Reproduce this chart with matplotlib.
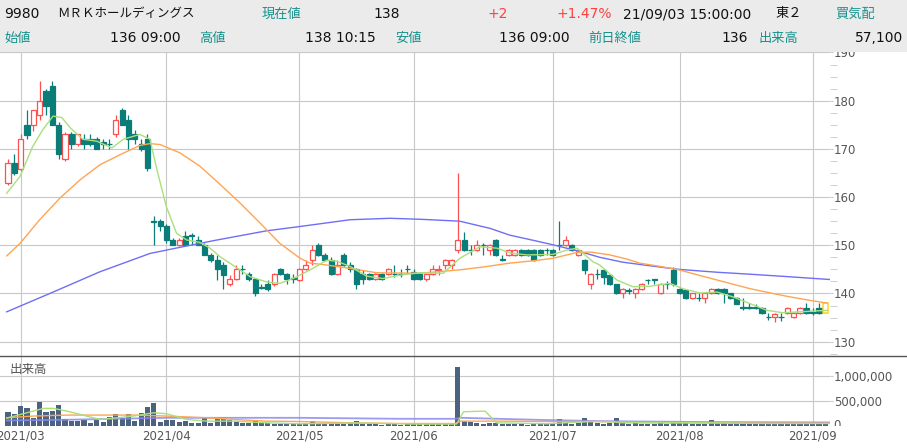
import numpy as np
import pandas as pd
import matplotlib
matplotlib.use('Agg')
import matplotlib.pyplot as plt
from matplotlib.patches import Rectangle
from matplotlib.lines import Line2D
from matplotlib.transforms import Bbox, TransformedBbox
from matplotlib.ticker import MultipleLocator

# ---------------- data ----------------
holidays = ['2021-04-29', '2021-05-03', '2021-05-04', '2021-05-05',
            '2021-07-22', '2021-07-23', '2021-08-09']
dates = [d for d in pd.bdate_range('2021-02-25', '2021-09-03')
         if d.strftime('%Y-%m-%d') not in holidays]

opens = [163, 167, 165.8, 175, 175, 177, 182, 183, 175, 168,
         173, 171, 172, 172, 172, 171.5, 171, 173, 178, 176,
         173, 171, 172, 155, 155, 154, 151, 150, 152, 152.2,
         151, 150, 148, 147, 146, 142, 143, 145.1, 144, 143,
         141.3, 141.9, 141.9, 145, 144, 143.2, 142.9, 145, 146.9, 150,
         148, 147, 144, 148, 146, 145, 144, 144, 143, 144,
         144, 144.1, 144.1, 145.1, 144.5, 144, 143, 144, 144.9, 146,
         146, 149, 151, 149.1, 149, 150.1, 149, 151, 147.1, 148,
         148, 149, 149, 149, 149, 149.1, 149, 150.1, 150, 150,
         148, 147, 142, 144.1, 144.9, 143.8, 141.9, 140, 140.7, 140,
         141, 142.9, 143, 140, 142, 144.9, 141, 140.8, 139, 139.1,
         139, 140, 141, 141, 140, 139, 137.1, 137.1, 137.1, 137,
         135.2, 135.1, 135.2, 136, 135.1, 136, 136.9, 136.1, 136.9, 136]
highs = [168, 169, 173, 178, 178, 184, 182.5, 184, 175.5, 173.5,
         173.5, 173, 173, 173, 172.5, 172, 172, 177, 178.5, 177,
         174, 172, 173, 156, 155.5, 154.5, 151.5, 151.5, 153, 152.5,
         152, 150.5, 148.5, 148, 146.5, 143.8, 146, 146, 144.5, 143.2,
         141.9, 142.9, 144.2, 145.3, 144.3, 144, 145.3, 147, 150, 150.5,
         148.5, 147.5, 147, 148.5, 146.5, 145.3, 144.8, 144.3, 144.3, 144.3,
         145.3, 146, 145, 146, 145, 144.5, 144, 146, 145.9, 147.2,
         147.2, 165, 152.8, 150, 151, 150.5, 150.3, 151.2, 148, 149.2,
         149.2, 149.2, 149.2, 149.2, 149.3, 149.5, 149.3, 155, 152, 150.3,
         149.2, 147.2, 144.2, 145, 145, 144, 142, 141.2, 141.2, 141.2,
         142.2, 143, 143.1, 142.2, 142.5, 145.5, 141.2, 141, 140.2, 140,
         140.2, 141.2, 141.2, 141.2, 140.2, 139.2, 139, 138, 137.8, 137.2,
         136, 136, 136, 137.1, 136.2, 137.1, 138, 137, 138, 138]
lows = [162.5, 164.5, 165.5, 172, 173.8, 176, 177, 175, 168, 167.5,
        170, 170.5, 170, 170.5, 170, 170, 170, 172.5, 175, 170,
        171, 169.5, 165.5, 150, 153, 150.5, 150, 149.8, 150, 150,
        150, 148, 146.5, 142.8, 141, 141.5, 142.8, 144, 142.5, 139.5,
        140.9, 140.5, 141.5, 143.8, 142, 142.2, 142.5, 144.8, 146, 147.8,
        146.8, 143.8, 143.8, 145.8, 144.5, 141, 142, 142.8, 142.8, 142.8,
        143.8, 143.5, 143.5, 144, 142.8, 142.8, 142.5, 143.8, 143.8, 145,
        145, 148.5, 148.8, 148, 148.8, 148, 148, 147.8, 146.8, 147.8,
        147.8, 147.8, 147.8, 146.8, 147.8, 148, 147.8, 149, 149.8, 148.8,
        147.8, 144, 141, 143, 142, 141.8, 139.9, 139, 139.8, 139,
        140.8, 141.9, 141.9, 139.8, 141, 141.5, 139.8, 138.8, 138.8, 138.5,
        138, 139.8, 139.8, 138, 138.8, 137.8, 136.5, 136.8, 136.8, 135.8,
        134.5, 134.1, 134.2, 135.8, 135, 135.8, 135.8, 135.5, 135.8, 136]
closes = [167, 165, 172, 172.8, 178, 180, 179, 175, 169, 173,
          171, 173, 171, 171, 170, 171, 171, 176, 175, 172,
          172, 170, 166, 154.8, 154, 151, 150, 151, 150, 152,
          150, 148, 147, 145, 143.8, 143, 145, 145, 143, 140,
          141.2, 140.9, 144, 144, 143, 143, 145, 146, 149, 148,
          147, 144, 146, 146, 145, 142, 143, 143, 144, 143,
          145, 144, 144, 145, 143, 143, 144, 145, 145, 147,
          147, 151, 149, 149, 150, 150, 150, 148, 147, 149,
          149, 148, 148, 147, 148, 149, 148, 150, 151, 149,
          149, 144.9, 144, 144, 143.5, 141.9, 140, 141, 140.6, 141,
          141.9, 142.8, 142.9, 141.9, 141.9, 141.9, 140, 139, 140, 139,
          140, 141, 140, 140, 139, 137.9, 137, 137, 137, 136,
          135.1, 135.8, 135.1, 136.9, 136, 136.9, 136, 136, 136, 138]
volumes = [277000, 237000, 392000, 358000, 142000, 473000, 277000, 290000, 412000, 122000,
           88000, 88000, 101000, 54000, 101000, 68000, 169000, 223000, 142000, 237000,
           88000, 257000, 379000, 446000, 74000, 108000, 108000, 74000, 88000, 41000,
           41000, 142000, 41000, 135000, 135000, 101000, 68000, 41000, 41000, 108000,
           41000, 41000, 34000, 34000, 34000, 30000, 40000, 45000, 100000, 60000,
           45000, 68000, 45000, 40000, 45000, 88000, 40000, 30000, 25000, 20000,
           25000, 30000, 20000, 25000, 30000, 25000, 25000, 30000, 25000, 35000,
           30000, 1170000, 88000, 68000, 54000, 40000, 45000, 54000, 30000, 25000,
           30000, 25000, 20000, 30000, 25000, 30000, 40000, 122000, 54000, 40000,
           45000, 155000, 68000, 45000, 40000, 45000, 142000, 54000, 40000, 45000,
           40000, 35000, 40000, 45000, 35000, 68000, 54000, 45000, 40000, 35000,
           40000, 115000, 54000, 45000, 40000, 45000, 35000, 30000, 25000, 35000,
           40000, 30000, 35000, 30000, 35000, 30000, 40000, 30000, 35000, 57100]

# moving averages (trading-day index, value)
ma5_idx = [-0.2, 1.9, 3.9, 5.5, 7.1, 8.5, 9.8, 11.8, 14.0, 16.4,
           18.2, 20.8, 22.4, 23.5, 25.0, 26.6, 28.2, 30.3, 31.9, 33.5,
           35.0, 36.6, 38.2, 40.8, 42.9, 45.0, 47.7, 50.3, 51.9, 54.0,
           56.6, 59.2, 61.9, 65.0, 68.7, 71.3, 74.5, 77.2, 79.2, 81.9,
           86.0, 88.2, 89.8, 92.3, 93.4, 96.1, 98.6, 101.3, 104.5, 106.5,
           109.2, 111.9, 114.4, 117.1, 119.8, 122.3, 125.0, 129.3]
ma5_val = [160.8, 164.3, 170.5, 174.0, 176.8, 176.5, 174.4, 172.0, 171.6, 170.2,
           172.0, 173.0, 172.0, 165.7, 158.0, 152.5, 151.1, 150.6, 149.4, 147.6,
           146.3, 144.9, 143.5, 142.4, 142.1, 143.1, 144.9, 146.9, 146.7, 145.6,
           143.6, 143.1, 143.8, 144.3, 144.2, 147.3, 149.7, 149.4, 148.4, 148.0,
           148.1, 149.0, 149.4, 146.6, 145.9, 142.8, 141.4, 141.5, 142.1, 141.0,
           140.1, 140.3, 139.3, 137.9, 136.5, 136.0, 136.2, 136.5]
ma25_idx = [-0.2, 1.9, 5.0, 8.2, 11.4, 14.5, 17.7, 20.8, 22.4, 24.0,
            27.1, 30.3, 33.5, 36.6, 39.8, 42.9, 46.1, 47.7, 50.3, 54.0,
            58.2, 65.0, 71.3, 75.0, 79.2, 83.0, 86.0, 89.8, 92.0, 95.0,
            97.5, 99.7, 103.0, 105.9, 109.0, 111.9, 114.5, 117.1, 120.0, 123.0,
            126.0, 129.3]
ma25_val = [147.8, 150.4, 155.3, 159.8, 163.6, 166.7, 168.8, 170.7, 171.1, 170.9,
            169.2, 166.4, 162.6, 158.8, 154.6, 150.4, 147.3, 146.3, 145.9, 145.2,
            144.3, 144.2, 144.9, 145.5, 146.3, 146.8, 147.3, 148.5, 148.6, 148.0,
            147.2, 146.3, 145.6, 144.9, 143.8, 142.8, 141.9, 141.0, 140.2, 139.4,
            138.7, 138.0]
ma75_idx = [-0.2, 6.6, 14.5, 22.4, 27.6, 33.0, 40.8, 46.1, 54.0, 60.3,
            65.0, 71.3, 76.1, 79.2, 83.0, 86.0, 90.0, 93.4, 97.0, 101.0,
            105.9, 112.0, 117.1, 123.0, 129.7]
ma75_val = [136.2, 140.0, 144.5, 148.3, 149.7, 151.1, 153.0, 153.9, 155.3, 155.6,
            155.4, 155.0, 153.5, 152.1, 151.0, 150.1, 148.8, 147.5, 146.5, 145.8,
            145.0, 144.4, 144.0, 143.5, 142.9]

vma5_idx = [-0.2, 2.0, 5.6, 7.2, 9.3, 11.4, 14.5, 17.2, 19.8, 23.0,
            25.0, 28.2, 31.4, 35.6, 40.8, 46.0, 55.0, 65.0, 70.8, 71.9,
            75.3, 77.1, 85.0, 92.0, 100.0, 110.0, 120.0, 129.7]
vma5_val = [150000, 223000, 345000, 345000, 290000, 223000, 122000, 155000, 190000, 257000,
            237000, 122000, 88000, 88000, 54000, 34000, 50000, 28000, 30000, 277000,
            290000, 54000, 35000, 80000, 60000, 55000, 40000, 40000]
vma25_idx = [-0.2, 4.0, 9.3, 19.8, 25.0, 31.4, 35.6, 40.8, 46.0, 54.0,
             62.0, 70.6, 71.5, 77.7, 85.5, 95.5, 96.5, 110.0, 129.7]
vma25_val = [155000, 190000, 210000, 210000, 190000, 155000, 122000, 88000, 80000, 54000,
             40000, 40000, 88000, 88000, 80000, 80000, 55000, 50000, 45000]
vma75_idx = [-0.2, 9.0, 25.0, 46.0, 62.0, 70.6, 71.5, 83.3, 93.4, 110.0, 129.7]
vma75_val = [101000, 115000, 155000, 155000, 135000, 135000, 155000, 115000, 88000, 70000, 62000]

price_ticks = [130, 140, 150, 160, 170, 180, 190]
vol_ticks = [500000, 1000000]
vol_tick_labels = ['500,000', '1,000,000']

header_row1 = [('9980', 4, 'k', 'num'), ('ＭＲＫホールディングス', 57, 'k', 'name'),
               ('現在値', 262, 't', 'jp'), ('138', 373, 'k', 'num'),
               ('+2', 488, 'r', 'num'), ('+1.47%', 556, 'r', 'num'),
               ('21/09/03 15:00:00', 623, 'k', 'num'), ('東２', 775, 'k', 'jp'),
               ('買気配', 835, 't', 'jp')]
header_row2 = [('始値', 4, 't', 'jp'), ('136 09:00', 110, 'k', 'num'),
               ('高値', 199, 't', 'jp'), ('138 10:15', 305, 'k', 'num'),
               ('安値', 395, 't', 'jp'), ('136 09:00', 499, 'k', 'num'),
               ('前日終値', 588, 't', 'jp'), ('136', 721, 'k', 'num'),
               ('出来高', 758, 't', 'jp'), ('57,100', 855, 'k', 'num')]

# ---------------- styling ----------------
W, H = 907, 448
def fx(px):
    return px / W
def fy(py):
    return 1 - py / H

UP = '#FF4F4F'
DOWN = '#0B7D78'
GRID = '#C8C8C8'
LBL = '#555555'
TEAL_TXT = '#17918C'

fig = plt.figure(figsize=(W / 100, H / 100), dpi=100)
fig.patch.set_facecolor('white')

ax1 = fig.add_axes([0, fy(356), fx(830), fy(52) - fy(356)])
ax2 = fig.add_axes([0, fy(425.5), fx(830), fy(356) - fy(425.5)], sharex=ax1)

n = len(closes)
x = np.arange(n)
o = np.array(opens); c = np.array(closes); h = np.array(highs); l = np.array(lows)
up = c > o
body_lo = np.minimum(o, c)
body_h = np.abs(c - o)

# wicks
ax1.vlines(x[up], l[up], h[up], color=UP, lw=0.9, zorder=3)
ax1.vlines(x[~up], l[~up], h[~up], color=DOWN, lw=0.9, zorder=3)
# bodies
last = n - 1
up_idx = [i for i in range(n) if up[i] and i != last]
dn_idx = [i for i in range(n) if not up[i] and i != last]
ax1.bar(x[up_idx], body_h[up_idx], bottom=body_lo[up_idx], width=0.8,
        facecolor='white', edgecolor=UP, linewidth=0.9, zorder=4)
ax1.bar(x[dn_idx], body_h[dn_idx], bottom=body_lo[dn_idx], width=0.8,
        facecolor=DOWN, edgecolor=DOWN, linewidth=0.9, zorder=4)
ax1.bar([x[last]], [body_h[last]], bottom=[body_lo[last]], width=0.85,
        facecolor='white', edgecolor='#FFD21F', linewidth=1.1, zorder=5)

ax1.plot(ma75_idx, ma75_val, color='#6E6EF7', lw=1.0, zorder=6)
ax1.plot(ma25_idx, ma25_val, color='#FFA552', lw=1.0, zorder=6)
ax1.plot(ma5_idx, ma5_val, color='#A9E07C', lw=1.0, zorder=6)

# month ticks
month_idx = []
month_lbl = []
for i, d in enumerate(dates):
    if i > 0 and d.month != dates[i - 1].month:
        month_idx.append(i)
        month_lbl.append(d.strftime('%Y/%m'))

ax1.set_xlim(-8 / 6.336, (830 - 8) / 6.336)
ax1.set_ylim(127.03, 190.1)
ax1.set_xticks(month_idx)
ax1.tick_params(axis='x', length=0, labelbottom=False)
ax1.yaxis.tick_right()
ax1.set_yticks(price_ticks)
ax1.yaxis.set_minor_locator(MultipleLocator(2.5))
ax1.tick_params(axis='y', which='major', direction='out', length=2, color=GRID,
                labelcolor=LBL, labelsize=8.5, pad=1)
ax1.tick_params(axis='y', which='minor', direction='out', length=5, color=GRID)
ax1.grid(True, color=GRID, lw=0.8, zorder=0)
ax1.set_axisbelow(True)
for s in ax1.spines.values():
    s.set_visible(False)

# volume
ax2.bar(x, volumes, width=0.8, color='#4C6380', zorder=3)
ax2.plot(vma75_idx, vma75_val, color='#8A8AF0', lw=1.3, alpha=0.85, zorder=4)
ax2.plot(vma25_idx, vma25_val, color='#FFA552', lw=1.0, zorder=4)
ax2.plot(vma5_idx, vma5_val, color='#A9E07C', lw=1.0, zorder=4)
ax2.set_ylim(0, 1400000)
ax2.yaxis.tick_right()
ax2.set_yticks(vol_ticks)
ax2.set_yticklabels(vol_tick_labels)
ax2.tick_params(axis='y', direction='out', length=2, color=GRID,
                labelcolor=LBL, labelsize=8.5, pad=1)
ax2.set_xticks(month_idx)
ax2.set_xticklabels(month_lbl)
ax2.tick_params(axis='x', length=0, labelcolor=LBL, labelsize=8.5, pad=3)
ax2.grid(True, color=GRID, lw=0.8, zorder=0)
ax2.set_axisbelow(True)
for s in ax2.spines.values():
    s.set_visible(False)
ax2.text(0.011, 0.8, '出来高', transform=ax2.transAxes, fontsize=9,
         family=['Noto Sans CJK JP'], color=LBL, va='center', ha='left')

# clipped "0" label of volume axis
t0 = fig.text(fx(833), fy(425.5), '0', fontsize=8.5, color=LBL,
              ha='left', va='center')
t0.set_clip_box(TransformedBbox(Bbox([[fx(830), fy(425.5)], [1, fy(356)]]),
                                fig.transFigure))
t0.set_clip_on(True)

# pane separator
fig.add_artist(Line2D([0, 1], [fy(356), fy(356)], transform=fig.transFigure,
                      color='#555555', lw=1.0, zorder=8))

# header
fig.add_artist(Rectangle((0, fy(52)), 1, 1 - fy(52), transform=fig.transFigure,
                         facecolor='#EBEBEB', edgecolor='none', zorder=10))
colmap = {'k': '#111111', 't': TEAL_TXT, 'r': '#FF4040'}
def put(row, ypx):
    for txt, xpx, col, kind in row:
        if kind == 'num':
            fam = ['DejaVu Sans', 'Noto Sans CJK JP']; fs = 10
        elif kind == 'name':
            fam = ['Noto Sans CJK JP', 'DejaVu Sans']; fs = 9
        else:
            fam = ['Noto Sans CJK JP', 'DejaVu Sans']; fs = 9.5
        fig.text(fx(xpx), fy(ypx), txt, family=fam, fontsize=fs,
                 color=colmap[col], ha='left', va='center', zorder=11)
put(header_row1, 14)
put(header_row2, 38.5)

fig.savefig('out.png', dpi=100, facecolor='white')
